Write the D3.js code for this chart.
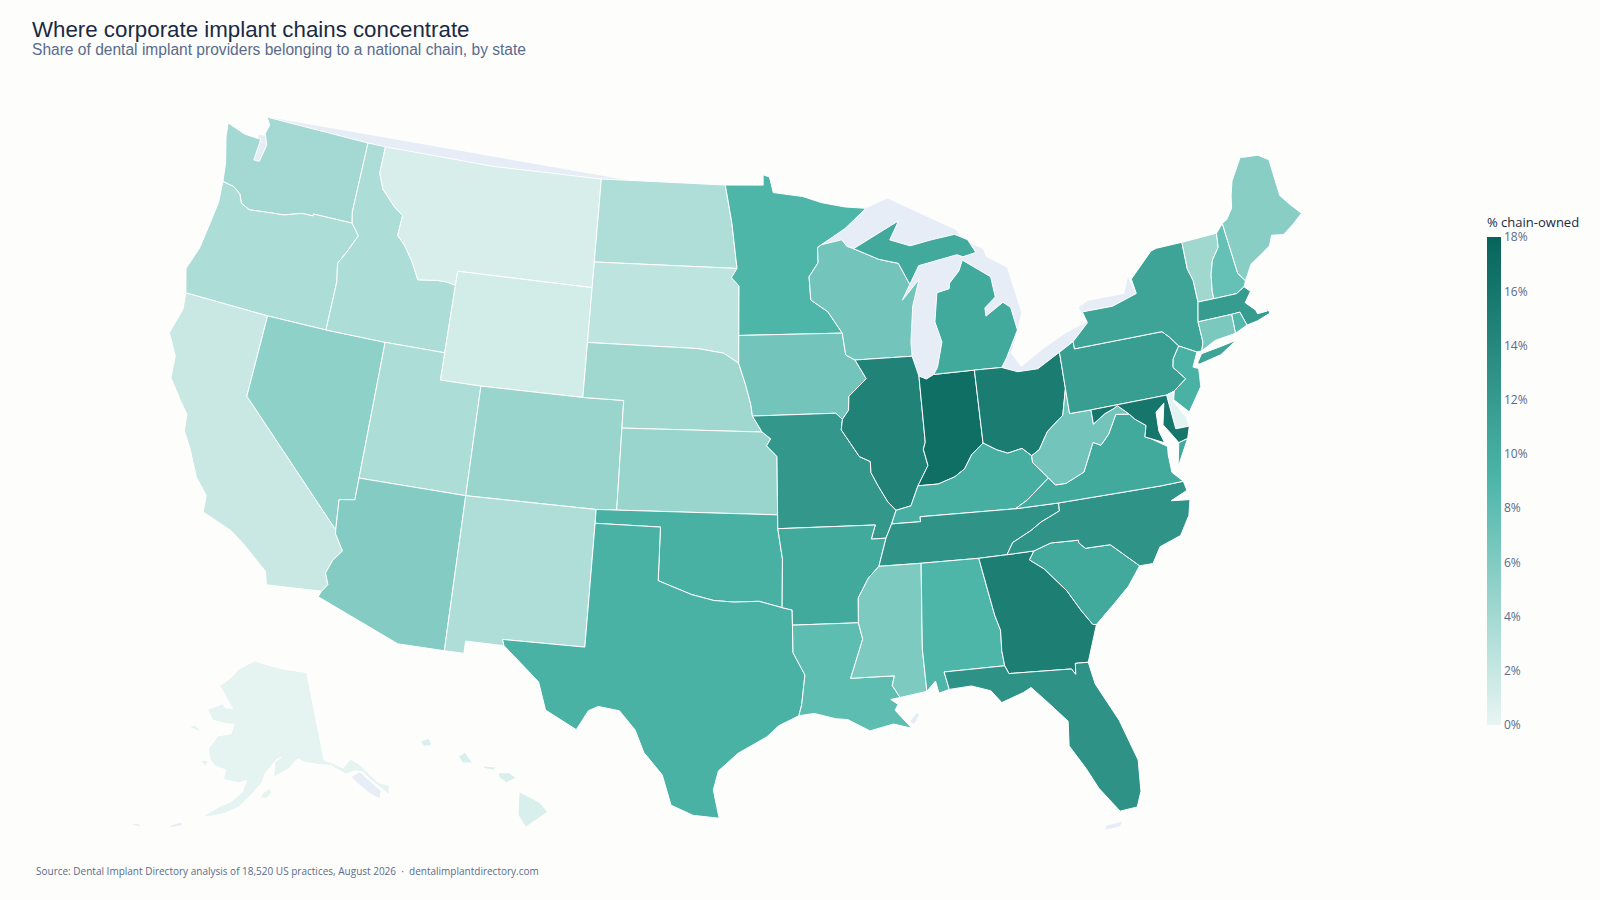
<!DOCTYPE html>
<html>
<head>
<meta charset="utf-8">
<script src="https://cdn.jsdelivr.net/npm/d3@7"></script>
<style>
  html, body { margin: 0; background: #fdfdfb; }
  svg { display: block; }
  text { white-space: pre; }
  .title { font-family: "Liberation Sans", sans-serif; font-size: 22.3px; fill: #1a2a44; }
  .subtitle { font-family: "Liberation Sans", sans-serif; font-size: 15.57px; fill: #5a6b8c; }
  .source { font-family: "Open Sans", sans-serif; font-size: 10px; fill: #5a6b8c; }
  .cbtitle { font-family: "Open Sans", sans-serif; font-size: 13px; fill: #1a2a44; }
  .cbaxis text { font-family: "Open Sans", sans-serif; font-size: 12px; fill: #5a6b8c; }
  .cbaxis .domain { display: none; }
</style>
</head>
<body>
<svg id="chart" width="1600" height="900"></svg>
<script>
let stateNames = ["WA","OR","CA","NV","ID","MT","WY","UT","AZ","CO","NM","ND","SD","NE","KS","OK","TX","MN","IA","MO","AR","LA","WI","IL","IN","MI","OH","KY","TN","MS","AL","GA","FL","SC","NC","VA","WV","PA","NY","VT","NH","ME","MA","RI","CT","NJ","DE","MD","AK","HI"];
let stateValues = [4,3.4,1.8,5.2,3.5,1,1.3,3.4,5.8,4.6,3.3,3.3,2.5,4.2,4.6,9.6,9.4,9,6.8,12.4,10.4,8,6.8,14.6,16.8,10.4,15.4,9.8,12.8,6.2,9,15.2,13,10.4,12.8,10.4,6.8,11.6,11,4.2,7.6,5.6,11.8,8.6,6.4,9.4,0.3,16,0.2,0.9];

let tickValues = [0,2,4,6,8,10,12,14,16,18];
let tickLabels = ["0%","2%","4%","6%","8%","10%","12%","14%","16%","18%"];
let colorStops = ["#e8f5f3","#4db6a9","#07645a"];

// state outlines, lon/lat
let outlines = {
  WA: [[[-122.76,49],[-117.03,49],[-117.04,46.4],[-116.92,46],[-119,46],[-119,45.93],[-119.6,45.92],[-120.5,45.7],[-121.2,45.65],[-122.3,45.55],[-122.8,45.7],[-123,46],[-123.4,46.2],[-124.05,46.27],[-124.2,46.95],[-124.6,47.9],[-124.7,48.38],[-123.7,48.17],[-123.1,48.15],[-122.75,48.15],[-122.8,47.35],[-122.5,47.35],[-122.35,48],[-122.6,48.4],[-122.5,48.75]]],
  OR: [[[-124.05,46.27],[-123.4,46.2],[-123,46],[-122.8,45.7],[-122.3,45.55],[-121.2,45.65],[-120.5,45.7],[-119.6,45.92],[-119,45.93],[-119,46],[-116.92,46],[-116.46,45.6],[-116.85,44.95],[-117.2,44.45],[-117.03,43.8],[-117.03,42],[-120,42],[-124.2,42],[-124.55,42.85],[-124.2,43.7],[-124.07,44.6],[-123.95,45.5]]],
  CA: [[[-124.2,42],[-120,42],[-120,39],[-114.63,35],[-114.6,34.85],[-114.15,34.3],[-114.5,33.9],[-114.7,33.4],[-114.5,33],[-114.72,32.72],[-117.12,32.53],[-117.3,33],[-118.45,33.75],[-119.2,34.15],[-120.6,34.55],[-120.65,35.15],[-121.3,35.7],[-121.9,36.6],[-122.4,37.2],[-122.5,37.8],[-122.95,38.2],[-123.7,38.9],[-123.8,39.7],[-124.4,40.45],[-124.1,41.4]]],
  NV: [[[-120,42],[-117.03,42],[-114.04,42],[-114.04,37],[-114.04,36.2],[-114.75,36.1],[-114.63,35],[-120,39]]],
  ID: [[[-117.03,49],[-116.05,49],[-116.05,48],[-115.7,47.45],[-114.9,46.9],[-114.4,46.65],[-114.45,45.9],[-114,45.6],[-113.45,45.05],[-113,44.45],[-112,44.55],[-111.5,44.55],[-111.05,44.48],[-111.05,42],[-114.04,42],[-117.03,42],[-117.03,43.8],[-117.2,44.45],[-116.85,44.95],[-116.46,45.6],[-116.92,46],[-117.04,46.4]]],
  MT: [[[-116.05,49],[-110,49],[-104.05,49],[-104.05,45.94],[-104.05,45],[-111.05,45],[-111.05,44.48],[-111.5,44.55],[-112,44.55],[-113,44.45],[-113.45,45.05],[-114,45.6],[-114.45,45.9],[-114.4,46.65],[-114.9,46.9],[-115.7,47.45],[-116.05,48]]],
  WY: [[[-111.05,45],[-104.05,45],[-104.05,43],[-104.05,41],[-109.05,41],[-111.05,41],[-111.05,42],[-111.05,44.48]]],
  UT: [[[-114.04,42],[-111.05,42],[-111.05,41],[-109.05,41],[-109.05,37],[-114.04,37]]],
  AZ: [[[-114.04,37],[-109.05,37],[-109.05,31.33],[-111.07,31.33],[-114.81,32.5],[-114.72,32.72],[-114.5,33],[-114.7,33.4],[-114.5,33.9],[-114.15,34.3],[-114.6,34.85],[-114.63,35],[-114.75,36.1],[-114.04,36.2]]],
  CO: [[[-109.05,41],[-104.05,41],[-102.05,41],[-102.05,40],[-102.05,37],[-103,37],[-109.05,37]]],
  NM: [[[-109.05,37],[-103,37],[-103,36.5],[-103.05,32],[-106.62,32],[-106.53,31.78],[-108.2,31.78],[-108.2,31.33],[-109.05,31.33]]],
  ND: [[[-104.05,49],[-97.23,49],[-96.85,47.6],[-96.56,45.94],[-104.05,45.94]]],
  SD: [[[-104.05,45.94],[-96.56,45.94],[-96.85,45.6],[-96.45,45.3],[-96.45,43.5],[-96.45,42.49],[-97.2,42.85],[-98.5,43],[-104.05,43],[-104.05,45]]],
  NE: [[[-104.05,43],[-98.5,43],[-97.2,42.85],[-96.45,42.49],[-96.1,41.7],[-95.85,41],[-95.77,40.58],[-95.31,40],[-102.05,40],[-102.05,41],[-104.05,41]]],
  KS: [[[-102.05,40],[-95.31,40],[-94.9,39.75],[-95.1,39.5],[-94.61,39.11],[-94.62,37],[-103,37],[-102.05,37]]],
  OK: [[[-103,37],[-94.62,37],[-94.62,36.5],[-94.43,35.4],[-94.48,33.64],[-95.5,33.88],[-96.6,33.85],[-97.5,33.9],[-98.5,34.1],[-100,34.56],[-100,36.5],[-103,36.5]]],
  TX: [[[-103,36.5],[-100,36.5],[-100,34.56],[-98.5,34.1],[-97.5,33.9],[-96.6,33.85],[-95.5,33.88],[-94.48,33.64],[-94.04,33.55],[-94.04,33],[-94.04,32],[-93.55,31.18],[-93.72,30.1],[-93.85,29.7],[-94.7,29.35],[-95.2,28.95],[-96.4,28.35],[-97.2,27.7],[-97.4,27],[-97.15,25.96],[-98.2,26.05],[-99.1,26.4],[-99.5,27.5],[-100.3,28.3],[-100.7,29.1],[-101.4,29.77],[-102.3,29.88],[-102.7,29.7],[-103.15,28.98],[-104.5,29.6],[-104.9,30.6],[-106.53,31.78],[-106.62,32],[-103.05,32]]],
  MN: [[[-97.23,49],[-95.15,49],[-95.15,49.38],[-94.8,49.3],[-94.6,48.72],[-93,48.55],[-92,48.3],[-90.75,48.1],[-89.6,48],[-90.8,47.3],[-92.1,46.75],[-92.3,46.65],[-92.3,46.1],[-92.8,45.6],[-92.75,44.75],[-91.9,44.3],[-91.22,43.5],[-96.45,43.5],[-96.45,45.3],[-96.85,45.6],[-96.56,45.94],[-96.85,47.6]]],
  IA: [[[-96.45,43.5],[-91.22,43.5],[-91.1,42.7],[-90.65,42.5],[-90.15,41.8],[-91.05,41.2],[-91.1,40.7],[-91.42,40.38],[-91.73,40.61],[-95.77,40.58],[-95.85,41],[-96.1,41.7],[-96.45,42.49]]],
  MO: [[[-95.77,40.58],[-91.73,40.61],[-91.42,40.38],[-91.5,40],[-90.7,39],[-90.2,38.8],[-90.2,38.4],[-89.9,37.9],[-89.5,37.3],[-89.15,36.98],[-89.4,36.5],[-89.7,36],[-90.37,36],[-90.15,36.5],[-94.62,36.5],[-94.62,37],[-94.61,39.11],[-95.1,39.5],[-94.9,39.75],[-95.31,40]]],
  AR: [[[-94.62,36.5],[-90.15,36.5],[-90.37,36],[-89.7,36],[-90.1,35],[-90.6,34.6],[-91.1,33.9],[-91.15,33],[-94.04,33],[-94.04,33.55],[-94.48,33.64],[-94.43,35.4]]],
  LA: [[[-94.04,33],[-91.15,33],[-91,32.4],[-91.6,31],[-89.73,31],[-89.85,30.65],[-89.55,30.2],[-89.95,30.15],[-89.65,29.95],[-89.8,29.75],[-89.15,29.05],[-89.9,29.25],[-90.9,29.05],[-91.8,29.5],[-92.3,29.55],[-93.2,29.77],[-93.85,29.7],[-93.72,30.1],[-93.55,31.18],[-94.04,32]]],
  WI: [[[-92.3,46.65],[-92.1,46.75],[-91,46.9],[-90.75,46.65],[-90.4,46.55],[-89.1,46.1],[-88.1,45.9],[-87.6,45.1],[-88.05,44.55],[-87.1,45.25],[-87.55,44.3],[-87.8,43],[-87.8,42.49],[-90.65,42.5],[-91.1,42.7],[-91.22,43.5],[-91.9,44.3],[-92.75,44.75],[-92.8,45.6],[-92.3,46.1]]],
  IL: [[[-90.65,42.5],[-87.8,42.49],[-87.55,41.75],[-87.53,39.35],[-87.65,39.1],[-87.5,38.5],[-88.05,37.8],[-88.45,37.1],[-89.15,36.98],[-89.5,37.3],[-89.9,37.9],[-90.2,38.4],[-90.2,38.8],[-90.7,39],[-91.5,40],[-91.42,40.38],[-91.1,40.7],[-91.05,41.2],[-90.15,41.8]]],
  IN: [[[-87.55,41.75],[-87.2,41.62],[-86.82,41.76],[-84.8,41.76],[-84.8,39.1],[-85.4,38.73],[-85.8,38.25],[-86.3,38],[-87.1,37.8],[-88.05,37.8],[-87.5,38.5],[-87.65,39.1],[-87.53,39.35]]],
  MI: [[[-86.82,41.76],[-84.8,41.76],[-83.45,41.73],[-83.15,42.05],[-82.42,43],[-82.6,43.85],[-82.95,44.07],[-83.9,43.65],[-83.9,43.95],[-83.3,44.3],[-83.4,45.05],[-84.75,45.78],[-85,45.4],[-85.55,45],[-85.6,44.8],[-86.25,44.7],[-86.5,43.65],[-86.25,42.9],[-86.6,42]],
       [[-90.4,46.55],[-89.1,46.1],[-88.1,45.9],[-87.6,45.1],[-87.05,45.75],[-85,46],[-84.7,45.9],[-84,46],[-84.35,46.5],[-85,46.75],[-86.2,46.65],[-87.4,46.5],[-88.45,46.78],[-87.9,47.45],[-88.9,47.1]]],
  OH: [[[-84.8,41.76],[-83.45,41.73],[-82.7,41.5],[-81.7,41.5],[-80.52,41.97],[-80.52,40.64],[-80.85,39.7],[-81.7,39.2],[-82.2,38.6],[-82.6,38.42],[-83,38.73],[-83.7,38.63],[-84.2,38.8],[-84.8,39.1]]],
  KY: [[[-81.97,37.54],[-82.6,38.17],[-82.6,38.42],[-83,38.73],[-83.7,38.63],[-84.2,38.8],[-84.8,39.1],[-85.4,38.73],[-85.8,38.25],[-86.3,38],[-87.1,37.8],[-88.05,37.8],[-88.45,37.1],[-89.15,36.98],[-89.4,36.5],[-88.07,36.5],[-88.07,36.68],[-83.68,36.6],[-83.1,36.85]]],
  TN: [[[-90.1,35],[-88.2,35],[-85.6,34.98],[-84.32,34.99],[-84,35.4],[-83.1,35.75],[-82.6,36],[-81.7,36.3],[-81.68,36.59],[-83.68,36.6],[-88.07,36.68],[-88.07,36.5],[-89.4,36.5],[-89.7,36]]],
  MS: [[[-91.15,33],[-91,32.4],[-91.6,31],[-89.73,31],[-89.85,30.65],[-89.55,30.2],[-88.4,30.35],[-88.45,31.9],[-88.2,35],[-90.1,35],[-90.6,34.6],[-91.1,33.9]]],
  AL: [[[-88.2,35],[-85.6,34.98],[-85.18,32.87],[-85,32.3],[-85.05,31.55],[-85,31],[-87.6,31],[-87.45,30.35],[-87.9,30.25],[-88,30.7],[-88.4,30.35],[-88.45,31.9]]],
  GA: [[[-85.6,34.98],[-84.32,34.99],[-83.1,35],[-83.35,34.7],[-82.75,34.3],[-81.9,33.4],[-81.4,32.6],[-81,32.05],[-80.85,32.03],[-81.45,30.72],[-82,30.75],[-82.05,30.35],[-82.2,30.57],[-84.86,30.7],[-85,31],[-85.05,31.55],[-85,32.3],[-85.18,32.87]]],
  FL: [[[-87.6,31],[-85,31],[-84.86,30.7],[-82.2,30.57],[-82.05,30.35],[-82,30.75],[-81.45,30.72],[-81.3,29.9],[-80.55,28.45],[-80.05,26.9],[-80.15,25.75],[-80.4,25.2],[-81.1,25.15],[-81.8,26.1],[-82.2,26.9],[-82.75,27.8],[-82.65,28.7],[-83.4,29.5],[-84,30.1],[-84.35,29.95],[-85.3,29.68],[-85.7,30.15],[-86.5,30.4],[-87.45,30.35]]],
  SC: [[[-83.1,35],[-82.3,35.2],[-81.05,35.15],[-81.05,35.05],[-80.8,34.82],[-79.67,34.8],[-78.55,33.86],[-79.2,33.2],[-79.9,32.7],[-80.85,32.03],[-81,32.05],[-81.4,32.6],[-81.9,33.4],[-82.75,34.3],[-83.35,34.7]]],
  NC: [[[-84.32,34.99],[-83.1,35],[-82.3,35.2],[-81.05,35.15],[-81.05,35.05],[-80.8,34.82],[-79.67,34.8],[-78.55,33.86],[-77.95,33.85],[-77.5,34.4],[-76.5,34.65],[-75.95,35.3],[-75.75,35.85],[-76.6,35.95],[-75.8,36.2],[-75.87,36.55],[-76.9,36.55],[-81.68,36.59],[-81.7,36.3],[-82.6,36],[-83.1,35.75],[-84,35.4]]],
  VA: [[[-83.68,36.6],[-81.68,36.59],[-76.9,36.55],[-75.87,36.55],[-76.3,36.95],[-76.3,37.6],[-76.25,37.9],[-76.95,38.3],[-77.2,38.4],[-77.04,38.8],[-77.5,39.1],[-77.72,39.32],[-78.35,39.4],[-78.85,38.75],[-79.3,38.4],[-79.65,38.55],[-80.3,37.55],[-81.2,37.25],[-81.7,37.25],[-81.97,37.54],[-83.1,36.85]],
       [[-75.95,37.15],[-75.7,37.95],[-75.25,38.03],[-75.85,37.25]]],
  WV: [[[-82.6,38.42],[-82.6,38.17],[-81.97,37.54],[-81.7,37.25],[-81.2,37.25],[-80.3,37.55],[-79.65,38.55],[-79.3,38.4],[-78.85,38.75],[-78.35,39.4],[-77.72,39.32],[-78.2,39.7],[-78.4,39.62],[-78.85,39.5],[-79.48,39.2],[-79.48,39.72],[-80.52,39.72],[-80.52,40.64],[-80.85,39.7],[-81.7,39.2],[-82.2,38.6]]],
  PA: [[[-80.52,41.97],[-79.76,42.27],[-79.76,42],[-75.35,42],[-75.05,41.75],[-74.7,41.36],[-75.1,40.95],[-75.2,40.65],[-74.72,40.15],[-75.4,39.8],[-75.79,39.72],[-79.48,39.72],[-80.52,39.72],[-80.52,40.64]]],
  NY: [[[-79.76,42],[-79.76,42.27],[-78.9,42.85],[-79.05,43.27],[-77.5,43.27],[-76.2,43.55],[-76.3,44.1],[-75,44.95],[-74.7,45],[-73.35,45],[-73.4,44],[-73.25,43.55],[-73.27,42.75],[-73.5,42.05],[-73.5,41.3],[-73.65,41],[-73.9,41],[-74.7,41.36],[-75.05,41.75],[-75.35,42]],
       [[-74,40.6],[-73.7,40.9],[-72.6,41],[-71.9,41.07],[-72.8,40.7],[-73.9,40.55]]],
  VT: [[[-73.35,45],[-71.5,45.01],[-71.6,44.5],[-72.05,44.1],[-72.3,43.6],[-72.45,43],[-72.46,42.73],[-73.27,42.75],[-73.25,43.55],[-73.4,44]]],
  NH: [[[-71.5,45.01],[-71.08,45.3],[-70.98,43.4],[-70.7,43.07],[-70.85,42.87],[-71.3,42.7],[-72.46,42.73],[-72.45,43],[-72.3,43.6],[-72.05,44.1],[-71.6,44.5]]],
  ME: [[[-71.08,45.3],[-70.8,45.4],[-70.4,45.75],[-70.25,46.2],[-70,46.7],[-69.23,47.46],[-69.05,47.42],[-68.3,47.35],[-67.8,47.07],[-67.8,45.7],[-67.45,45.3],[-67,44.85],[-67.6,44.55],[-68.2,44.3],[-68.8,44.4],[-69.05,44.05],[-69.8,43.75],[-70.2,43.6],[-70.7,43.07],[-70.98,43.4]]],
  MA: [[[-73.5,42.05],[-73.27,42.75],[-72.46,42.73],[-71.3,42.7],[-70.85,42.87],[-70.6,42.65],[-71,42.3],[-70.6,41.95],[-70.55,41.8],[-70.05,41.8],[-70.1,42.05],[-69.95,41.7],[-70.65,41.55],[-71.2,41.5],[-71.38,42.02],[-71.8,42.02]]],
  RI: [[[-71.8,42.02],[-71.38,42.02],[-71.2,41.5],[-71.85,41.32]]],
  CT: [[[-73.5,42.05],[-71.8,42.02],[-71.85,41.32],[-72.9,41.25],[-73.65,41],[-73.5,41.3]]],
  NJ: [[[-74.7,41.36],[-73.9,41],[-74.25,40.5],[-74,40.4],[-74.1,39.75],[-74.9,38.95],[-75.5,39.5],[-75.4,39.8],[-74.72,40.15],[-75.2,40.65],[-75.1,40.95]]],
  DE: [[[-75.79,39.72],[-75.4,39.8],[-75.55,39.45],[-75.1,38.8],[-75.05,38.45],[-75.7,38.46]]],
  MD: [[[-79.48,39.72],[-75.79,39.72],[-75.7,38.46],[-75.05,38.45],[-75.25,38.03],[-75.7,37.95],[-75.95,38.3],[-76.25,38.7],[-76.0,39.45],[-76.45,39.2],[-76.5,38.5],[-76.35,38.05],[-76.95,38.3],[-77.2,38.4],[-77.04,38.8],[-77.5,39.1],[-77.72,39.32],[-78.2,39.7],[-78.4,39.62],[-78.85,39.5],[-79.48,39.2]]],
  AK: [[[-141,69.65],[-141,60.3],[-139.5,59.9],[-137.5,59.1],[-136.5,59.5],[-135.5,59.8],[-134,58.9],[-133,57.9],[-131.7,56.6],[-130,55.9],[-130.5,55],[-131.5,55.9],[-132.8,57],[-134,58.2],[-135.5,58.5],[-137.3,58.4],[-139.8,59.6],[-143,60.1],[-145,60.4],[-146.5,60.9],[-148.5,60],[-150,59.6],[-151.8,59.2],[-151.5,60.7],[-150,61.2],[-151,61],[-153.5,59.6],[-154.2,58.6],[-156.5,57.2],[-158.5,56],[-161,55.2],[-163.5,54.7],[-164.8,54.6],[-162,55.9],[-160,56.5],[-158,57.6],[-157.3,58.8],[-158.8,58.5],[-162,58.7],[-161.8,59.7],[-164.2,60],[-165.4,60.6],[-166.1,61.6],[-165,62.6],[-164.5,63.1],[-161.5,63.5],[-161,64.5],[-163,64.5],[-166.3,64.6],[-168.1,65.6],[-164.5,66.5],[-163.8,66.1],[-161.8,66.1],[-163.7,67.1],[-166.2,68.3],[-164.5,68.9],[-163,69.5],[-161.5,70.3],[-156.6,71.35],[-152,70.85],[-148,70.4],[-144,70]],
       [[-154.6,57],[-153.2,57],[-152.3,57.6],[-152.8,58],[-153.9,57.6]],
       [[-171.6,63.4],[-169,63.2],[-168.8,63.4],[-170.3,63.7]],
       [[-167.3,60.2],[-166,59.8],[-165.6,60.3],[-166.5,60.4]]],
  HI: [[[-155.9,20.25],[-155.1,19.85],[-154.8,19.5],[-155.65,18.95],[-155.95,19.4]],
       [[-156.7,20.95],[-156.3,20.95],[-156,20.75],[-156.4,20.58],[-156.7,20.8]],
       [[-158.25,21.55],[-158,21.7],[-157.7,21.3],[-158.1,21.3]],
       [[-159.75,22.1],[-159.4,22.2],[-159.3,21.95],[-159.6,21.9]],
       [[-157.3,21.2],[-156.75,21.15],[-156.9,21.05],[-157.25,21.1]]]
};

// land showing through where no state covers it: the lakes and small islands
let lakes = [[-92.1,46.75],[-91,47.3],[-89.6,48],[-88.4,48.3],[-84.9,46.9],[-84.5,46.45],[-83.6,46.1],[-83.5,45.8],[-82.5,45.3],[-82.1,43.6],[-82.42,43],[-82.9,42.2],[-82.5,41.65],[-81.25,42.2],[-80.1,42.6],[-78.9,42.9],[-79.2,43.45],[-78.7,43.63],[-76.8,43.63],[-76.45,44.2],[-76.2,43.55],[-78,42.5],[-81,41],[-85,41.5],[-87.5,41.6],[-88,43],[-88,45],[-90,46]];
let landBits = [
  [[-81.8,24.55],[-81.2,24.6],[-81.1,24.75],[-81.7,24.7]],
  [[-89.05,29.2],[-88.8,29.5],[-88.9,29.6],[-89.2,29.3]],
  [[-122.9,48.3],[-122.3,48.3],[-122.3,47.2],[-123,47.2]],
  [[-136.3,58],[-134.5,58.2],[-133.2,57],[-131.8,55.7],[-132.4,55],[-133.8,55.8],[-135.5,57.2]],
  [[-176.5,51.9],[-175,52],[-175.5,52.2]],
  [[-170,52.8],[-168.2,53.3],[-168.5,53.5],[-170,53]]
];
// straight chord along the northern border
let borderChord = [[-122.76,49],[-102.2,49]];

let width = 1600, height = 900;
let svg = d3.select("#chart");

let projection = d3.geoAlbersUsa().scale(1570).translate([735,468]);
let path = d3.geoPath(projection);

let color = d3.scaleLinear().domain([0,9,18]).range(colorStops);

// d3 polygons want clockwise rings, flip any that came out the other way
let polygon = (rings) => {
  let coords = rings.map(r => {
    let ring = r.concat([r[0]]);
    return d3.geoArea({type:"Polygon",coordinates:[ring]}) > 2 * Math.PI ? ring.slice().reverse() : ring;
  });
  return {type:"MultiPolygon",coordinates:coords.map(c => [c])};
};

let landFill = "#e6edf7";
let land = svg.append("g");
land.selectAll("path.bit")
  .data([lakes].concat(landBits))
  .enter()
  .append("path")
  .attr("class","bit")
  .attr("fill",landFill)
  .attr("d",d => path(polygon([d])));
land.append("path")
  .attr("fill",landFill)
  .attr("d",d3.line()(borderChord.map(projection).concat([projection([-110,47])])));

svg.append("g")
  .selectAll("path")
  .data(stateNames)
  .enter()
  .append("path")
  .attr("d",d => path(polygon(outlines[d])))
  .attr("fill",(d,i) => color(stateValues[i]))
  .attr("stroke","#ffffff")
  .attr("stroke-width",1)
  .attr("stroke-linejoin","round");

// titles
svg.append("text").attr("class","title").attr("x",32).attr("y",36.5).text("Where corporate implant chains concentrate");
svg.append("text").attr("class","subtitle").attr("x",32).attr("y",55).text("Share of dental implant providers belonging to a national chain, by state");
svg.append("text").attr("class","source").attr("x",36).attr("y",875).text("Source: Dental Implant Directory analysis of 18,520 US practices, August 2026  ·  dentalimplantdirectory.com");

// colour bar
let barX = 1487, barW = 14, barTop = 237, barBottom = 725;
let grad = svg.append("defs").append("linearGradient").attr("id","cb").attr("x1",0).attr("x2",0).attr("y1",1).attr("y2",0);
grad.selectAll("stop")
  .data(color.domain())
  .enter()
  .append("stop")
  .attr("offset",d => d / 18)
  .attr("stop-color",d => color(d));
svg.append("rect").attr("x",barX).attr("y",barTop).attr("width",barW).attr("height",barBottom - barTop).attr("fill","url(#cb)");
let barScale = d3.scaleLinear().domain([0,18]).range([barBottom,barTop]);
svg.append("g")
  .attr("class","cbaxis")
  .attr("transform","translate(" + (barX + barW) + ",0)")
  .call(d3.axisRight(barScale).tickValues(tickValues).tickFormat((d,i) => tickLabels[i]).tickSize(0).tickPadding(3));
svg.append("text").attr("class","cbtitle").attr("x",barX).attr("y",barTop - 10).text("% chain-owned");
</script>
</body>
</html>
